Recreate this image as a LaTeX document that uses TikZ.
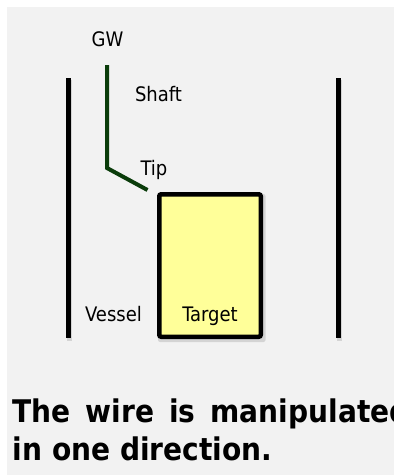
\documentclass[tikz,border=0pt]{standalone}
\usepackage{fontspec}
\setmainfont{DejaVu Sans Condensed}
\definecolor{bggray}{HTML}{F2F2F2}
\definecolor{wiregreen}{RGB}{10,60,10}
\definecolor{targetyellow}{HTML}{FFFF99}
\begin{document}
\begin{tikzpicture}[x=1pt,y=-1pt,
  lbl/.style={font=\fontsize{20}{24}\selectfont, inner sep=0pt, anchor=base},
  boldtxt/.style={font=\fontsize{31.2}{36}\selectfont\bfseries, inner sep=0pt, anchor=base west},
  wall/.style={line width=4.5pt, black},
  softshadow/.style={black, opacity=0.12},
  wire/.style={line width=4pt, wiregreen}]
\useasboundingbox (0,0) rectangle (394,475);
\clip (0,0) rectangle (394,475);
\fill[bggray] (6.5,7) rectangle (400,480);
% shadows
\fill[softshadow] (66.5,80) rectangle (71.5,341);
\fill[softshadow] (336.5,80) rectangle (341.5,341);
\fill[softshadow, rounded corners=2pt] (158,194) rectangle (265.5,342);
% vessel walls
\coordinate (lwtop) at (68.5,78);
\coordinate (lwbot) at (68.5,338);
\coordinate (rwtop) at (338.5,78);
\coordinate (rwbot) at (338.5,338);
\draw[wall] (lwtop) -- (lwbot);
\draw[wall] (rwtop) -- (rwbot);
% target
\node[draw=black, line width=4.5pt, fill=targetyellow, rounded corners=2pt,
      minimum width=101.5pt, minimum height=142.5pt, inner sep=0pt, outer sep=0pt,
      anchor=north west] (target) at (159.25,194.25) {};
% guide wire
\coordinate (gwtop) at (107,65);
\coordinate (gwbend) at (107,168);
\coordinate (gwtip) at (147.5,190);
\draw[wire] (gwtop) -- (gwbend) -- (gwtip);
% labels
\node[lbl] (gw) at (107.5,46) {GW};
\node[lbl] (shaft) at (158.5,101.5) {Shaft};
\node[lbl] (tip) at (154,175.5) {Tip};
\node[lbl] (vessel) at (113.5,321.5) {Vessel};
\node[lbl] (targetlbl) at (210,321.5) {Target};
% caption
\node[boldtxt] (cap1) at (12.5,422.5) {\spaceskip=15pt The wire is manipulated};
\node[boldtxt] (cap2) at (12.5,460) {in one direction.};
\end{tikzpicture}
\end{document}
